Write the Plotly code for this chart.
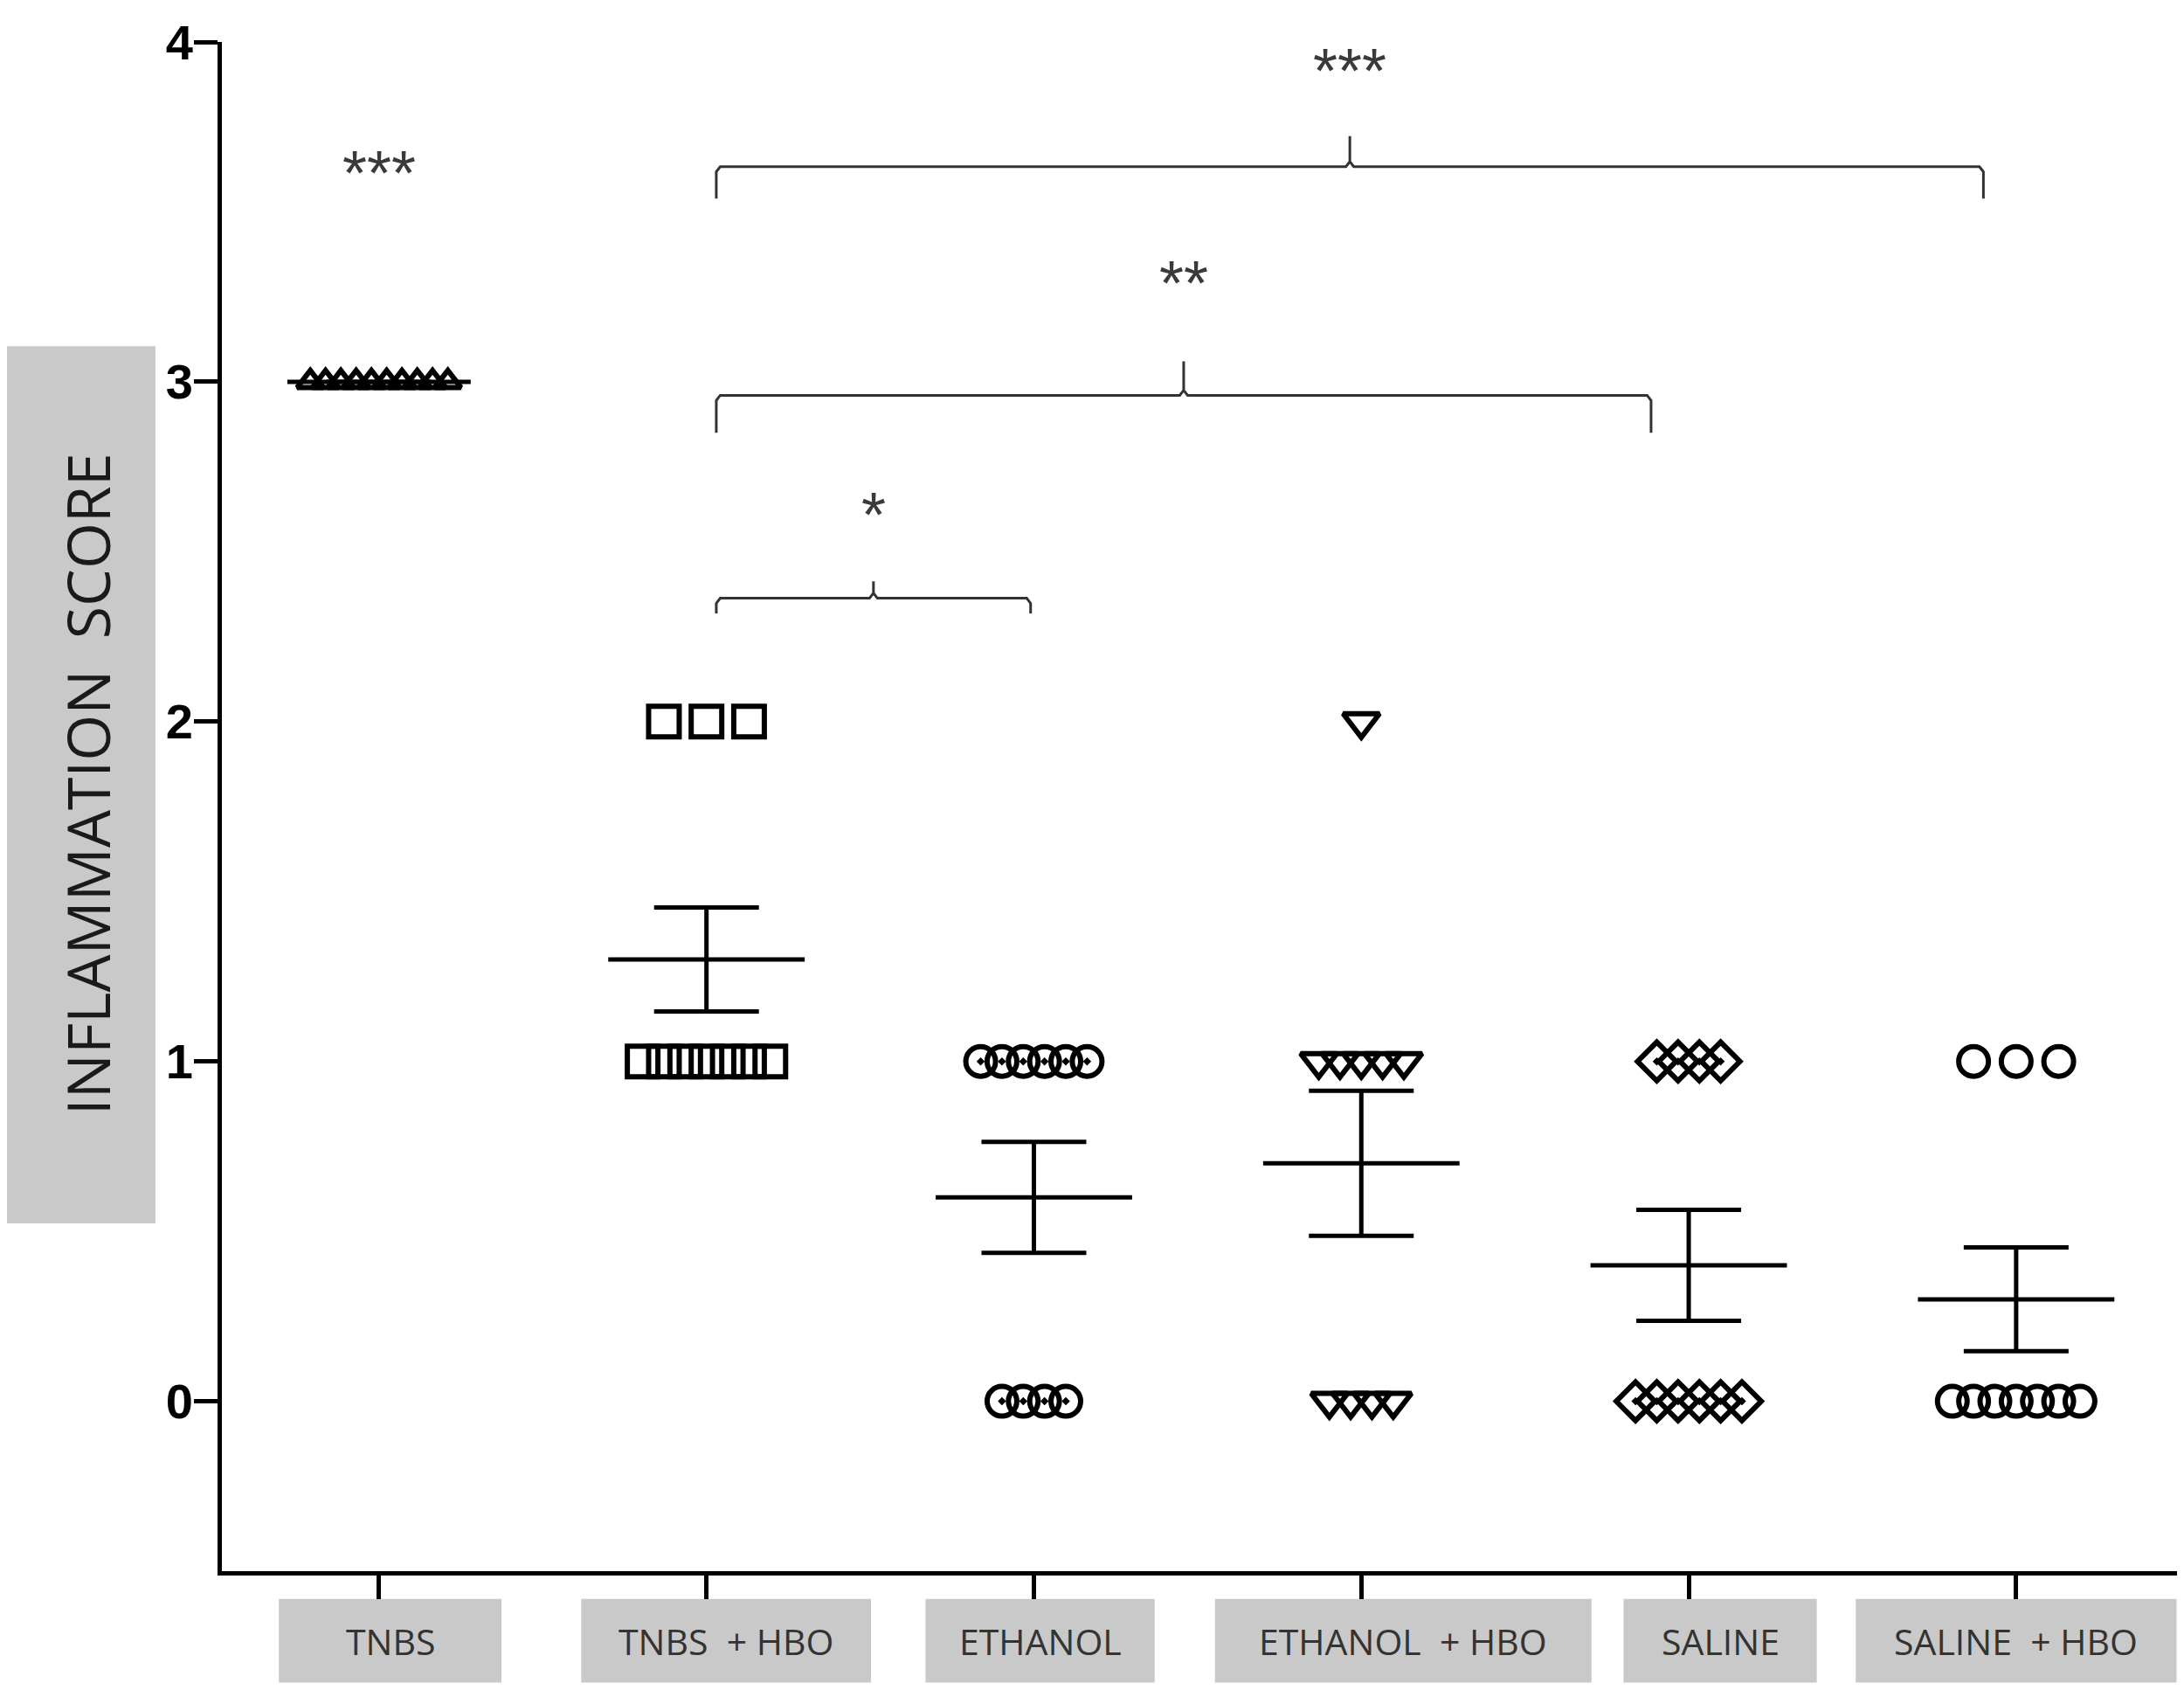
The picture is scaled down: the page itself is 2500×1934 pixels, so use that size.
import numpy as np
import plotly.graph_objects as go

# ---------------- data ----------------
categories = ["TNBS", "TNBS  + HBO", "ETHANOL", "ETHANOL  + HBO", "SALINE", "SALINE  + HBO"]
tnbs = [3, 3, 3, 3, 3, 3, 3, 3, 3, 3]
tnbs_hbo = [2, 2, 2, 1, 1, 1, 1, 1, 1, 1]
ethanol = [1, 1, 1, 1, 1, 1, 0, 0, 0, 0]
ethanol_hbo = [2, 1, 1, 1, 1, 1, 0, 0, 0, 0]
saline = [1, 1, 1, 1, 0, 0, 0, 0, 0, 0]
saline_hbo = [1, 1, 1, 0, 0, 0, 0, 0, 0, 0]
y_ticks = [0, 1, 2, 3, 4]

# significance annotations
single_star = ("***", 0, 3.61)
bracket_labels = ["*", "**", "***"]
bracket_ends = [(1.03, 1.99), (1.03, 3.885), (1.03, 4.90)]
bracket_y = [2.363, 2.96, 3.633]
bracket_drop = [0.045, 0.11, 0.094]
bracket_tip = [0.05, 0.10, 0.09]
bracket_text_y = [2.604, 3.286, 3.91]

# ---------------- styles ----------------
scores = [tnbs, tnbs_hbo, ethanol, ethanol_hbo, saline, saline_hbo]
symbols = ["triangle-up-open", "square-open", "circle-open-dot",
           "triangle-down-open", "diamond-open-dot", "circle-open"]
sizes = [26, 35, 34, 36, 34, 34]
label_box_offset = [0.034, 1.06, 2.019, 3.128, 4.096, 5.0]
label_box_width = [0.68, 0.885, 0.70, 1.15, 0.59, 0.98]
GRAY = "#c9c9c9"
FONT = "Open Sans"
STAR_FONT = dict(family="Liberation Sans", size=72, color="#3a3a3a")


def spread(n):
    s = 0.13 if n <= 3 else min(0.065, 0.42 / max(n - 1, 1))
    return (np.arange(n) - (n - 1) / 2) * s


fig = go.Figure()

# individual points
for i, vals in enumerate(scores):
    xs, ys = [], []
    for v in sorted(set(vals), reverse=True):
        n = vals.count(v)
        xs += list(i + spread(n))
        ys += [v] * n
    fig.add_trace(go.Scatter(
        x=xs, y=ys, mode="markers",
        marker=dict(symbol=symbols[i], size=sizes[i], color="black",
                    line=dict(color="black", width=6)),
        showlegend=False, hoverinfo="skip"))

# mean and SEM
means = [float(np.mean(v)) for v in scores]
sems = [float(np.std(v, ddof=1) / np.sqrt(len(v))) for v in scores]
mx, my = [], []
for i, m in enumerate(means):
    half = 0.28 if i == 0 else 0.30
    mx += [i - half, i + half, None]
    my += [m, m, None]
fig.add_trace(go.Scatter(x=mx, y=my, mode="lines",
                         line=dict(color="black", width=5),
                         showlegend=False, hoverinfo="skip"))
fig.add_trace(go.Scatter(
    x=list(range(len(categories))), y=means, mode="markers",
    marker=dict(size=1, color="rgba(0,0,0,0)"),
    error_y=dict(type="data", array=sems, visible=True, color="black",
                 thickness=5, width=60),
    showlegend=False, hoverinfo="skip"))

# brackets
for k in range(len(bracket_labels)):
    x1, x2 = bracket_ends[k]
    y = bracket_y[k]
    yb = y - bracket_drop[k]
    yt = y + bracket_tip[k]
    xm = (x1 + x2) / 2
    c = 0.012
    bx = [x1, x1, x1 + c, xm - c, xm, xm, xm, xm + c, x2 - c, x2, x2]
    by = [yb, y - 0.015, y, y, y + 0.015, yt, y + 0.015, y, y, y - 0.015, yb]
    fig.add_trace(go.Scatter(x=bx, y=by, mode="lines",
                             line=dict(color="#333333", width=3),
                             showlegend=False, hoverinfo="skip"))
    fig.add_annotation(x=xm, y=bracket_text_y[k], text=bracket_labels[k],
                       showarrow=False, yshift=2, font=STAR_FONT)

fig.add_annotation(x=single_star[1], y=single_star[2], text=single_star[0],
                   showarrow=False, yshift=2, font=STAR_FONT)

# category label boxes
for i, name in enumerate(categories):
    c = label_box_offset[i]
    w = label_box_width[i]
    fig.add_shape(type="rect", xref="x", yref="paper",
                  x0=c - w / 2, x1=c + w / 2, y0=-0.0728, y1=-0.0182,
                  fillcolor=GRAY, line=dict(width=0), layer="below")
    fig.add_annotation(x=c, xref="x", y=-0.0455, yref="paper", text=name,
                       showarrow=False, xanchor="center", yanchor="middle",
                       font=dict(family=FONT, size=41, color="#333333"))

# y title box
fig.add_shape(type="rect", xref="paper", yref="paper",
              x0=-0.1096, x1=-0.0339, y0=0.2275, y1=0.801,
              fillcolor=GRAY, line=dict(width=0), layer="below")
fig.add_annotation(x=-0.0690, xref="paper", y=0.5148, yref="paper",
                   xanchor="center", yanchor="middle",
                   text="INFLAMMATION  SCORE", textangle=-90, showarrow=False,
                   font=dict(family=FONT, size=68, color="#1a1a1a"))

fig.update_layout(
    width=2500, height=1934,
    margin=dict(l=246, r=9, t=32, b=144),
    paper_bgcolor="white", plot_bgcolor="white",
    xaxis=dict(range=[-0.48, 5.51], showline=True, linewidth=5, linecolor="black",
               ticks="outside", ticklen=27, tickwidth=5, tickcolor="black",
               tickvals=list(range(len(categories))), showticklabels=False,
               showgrid=False, zeroline=False),
    yaxis=dict(range=[-0.5, 4], showline=True, linewidth=5, linecolor="black",
               ticks="outside", ticklen=27, tickwidth=5, tickcolor="black",
               tickvals=y_ticks, ticktext=[str(t) for t in y_ticks],
               tickfont=dict(family="Liberation Sans Narrow, Liberation Sans",
                             size=56, color="black", weight="bold"),
               showgrid=False, zeroline=False),
)
try:
    fig.update_yaxes(ticklabelstandoff=-10)
except Exception:
    pass

fig.write_html("out.html")
